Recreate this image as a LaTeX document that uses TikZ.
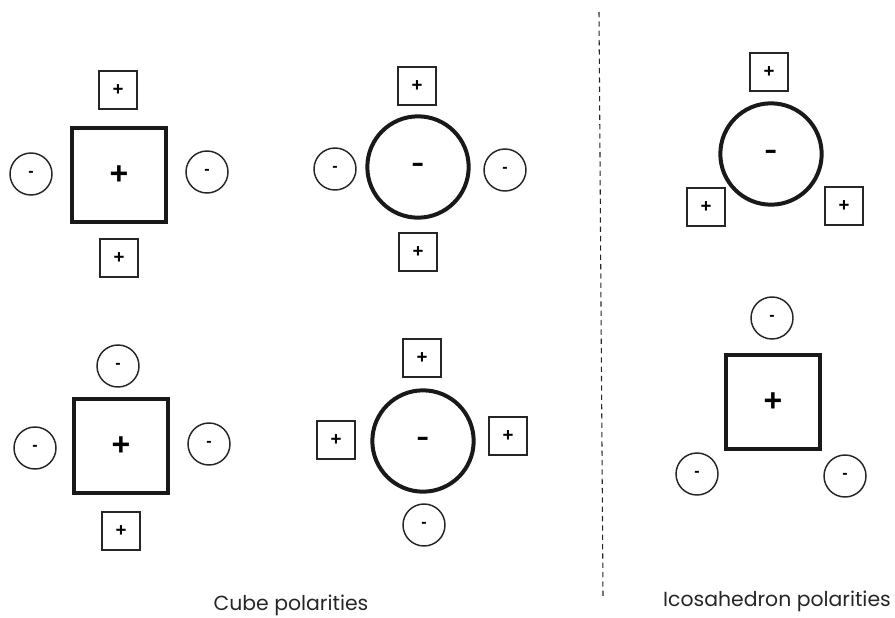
\documentclass[tikz,border=0pt]{standalone}
\usepackage{fontspec}
\setmainfont{Poppins}
\newfontfamily\signfont{Liberation Sans}
\tikzset{
 sq/.style={draw=black!85,line width=1.1pt,minimum size=28.5pt,inner sep=0pt,font=\signfont\bfseries\fontsize{14}{14}\selectfont,text=black},
 ci/.style={circle,draw=black!85,line width=1.1pt,minimum size=31.5pt,inner sep=0pt,font=\signfont\bfseries\fontsize{12}{12}\selectfont,text=black},
 bigsq/.style={draw=black!90,line width=3pt,minimum size=71pt,inner sep=0pt,font=\signfont\bfseries\fontsize{24}{24}\selectfont},
 bigci/.style={circle,draw=black!90,line width=3pt,minimum size=76pt,inner sep=0pt,text height=13pt,text depth=0pt,font=\signfont\fontsize{30}{30}\selectfont},
 lab/.style={font=\fontsize{15.3}{15.3}\selectfont,text=black!85,inner sep=0pt},
}
\begin{document}
\begin{tikzpicture}[x=0.75pt,y=-0.75pt]
\useasboundingbox (0,0) rectangle (895,617);
\node[bigsq] (A) at (119,175) {+};
\node[sq] (A1) at (118,90) {+};
\node[sq] (A2) at (119,258) {+};
\node[ci] (A3) at (31,174) {-};
\node[ci] (A4) at (207,172) {-};
\node[bigci] (B) at (418,167) {-};
\node[sq] (B1) at (417,86) {+};
\node[sq] (B2) at (418,252) {+};
\node[ci] (B3) at (335,169) {-};
\node[ci] (B4) at (505,170) {-};
\node[bigsq] (C) at (121,446) {+};
\node[ci] (C1) at (118,366) {-};
\node[sq] (C2) at (121,531) {+};
\node[ci] (C3) at (35,448) {-};
\node[ci] (C4) at (209,444) {-};
\node[bigci] (D) at (423,441) {-};
\node[sq] (D1) at (422,358) {+};
\node[ci] (D2) at (424,525) {-};
\node[sq] (D3) at (336,440) {+};
\node[sq] (D4) at (508,436) {+};
\node[bigci] (E) at (771,154) {-};
\node[sq] (E1) at (769,72) {+};
\node[sq] (E2) at (706,207) {+};
\node[sq] (E3) at (844,206) {+};
\node[bigsq] (F) at (773,402) {+};
\node[ci] (F1) at (772,318) {-};
\node[ci] (F2) at (697,474) {-};
\node[ci] (F3) at (845,476) {-};
\coordinate (T) at (599,12);
\coordinate (Bt) at (603,596);
\draw[black!85,line width=0.8pt,dash pattern=on 4pt off 3pt] (T) -- (Bt);
\node[lab] (L1) at (291,605) {Cube polarities};
\node[lab] (L2) at (777,601) {Icosahedron polarities};
\end{tikzpicture}
\end{document}
